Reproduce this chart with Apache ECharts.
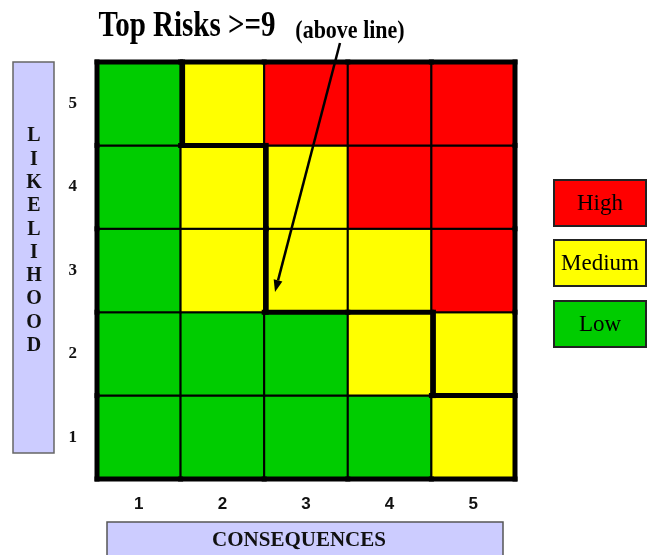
<!DOCTYPE html>
<html><head><meta charset="utf-8">
<script src="https://cdn.jsdelivr.net/npm/echarts@6/dist/echarts.min.js"></script>
<style>html,body{margin:0;padding:0;background:#fff}#main{width:649px;height:555px}</style>
</head><body><div id="main"></div>
<script>
// ---- data ----
const consequenceLabels = ['1', '2', '3', '4', '5'];
const likelihoodLabels = ['1', '2', '3', '4', '5'];
// risk level per cell, consequence 1..5, one array per likelihood row
const likelihood1 = ['Low', 'Low', 'Low', 'Low', 'Medium'];
const likelihood2 = ['Low', 'Low', 'Low', 'Medium', 'Medium'];
const likelihood3 = ['Low', 'Medium', 'Medium', 'Medium', 'High'];
const likelihood4 = ['Low', 'Medium', 'Medium', 'High', 'High'];
const likelihood5 = ['Low', 'Medium', 'High', 'High', 'High'];
const legendLevels = ['High', 'Medium', 'Low'];
const topRiskThreshold = 9;

// ---- styling ----
const levelNames = ['Low', 'Medium', 'High'];
const levelColors = { High: '#ff0000', Medium: '#ffff00', Low: '#00cc00' };
const serif = "'Liberation Serif', 'Times New Roman', serif";
const sans = "'Liberation Sans', Arial, sans-serif";

const rows = [likelihood1, likelihood2, likelihood3, likelihood4, likelihood5];
const cellData = [];
rows.forEach((row, l) => row.forEach((lv, c) => cellData.push([c, l, levelNames.indexOf(lv)])));

function score(c, l) { return Number(consequenceLabels[c]) * Number(likelihoodLabels[l]); }
function isTop(c, l) { return score(c, l) >= topRiskThreshold; }

function cellBox(api) {
  const c = api.value(0), l = api.value(1);
  const p = api.coord([c, l]);
  const s = api.size([1, 1]);
  return { c, l, x0: p[0] - s[0] / 2, x1: p[0] + s[0] / 2, y0: p[1] - s[1] / 2, y1: p[1] + s[1] / 2 };
}

function renderCell(params, api) {
  const b = cellBox(api);
  return {
    type: 'rect',
    shape: { x: b.x0, y: b.y0, width: b.x1 - b.x0, height: b.y1 - b.y0 },
    style: { fill: levelColors[levelNames[api.value(2)]], stroke: '#000', lineWidth: 2 }
  };
}

function seg(x1, y1, x2, y2, w) {
  return { type: 'line', shape: { x1, y1, x2, y2 }, style: { stroke: '#000', lineWidth: w, lineCap: 'square' } };
}

function renderBorders(params, api) {
  const b = cellBox(api);
  const n = consequenceLabels.length, m = likelihoodLabels.length;
  const ch = [];
  const W = 5;
  if (b.c === 0) ch.push(seg(b.x0, b.y0, b.x0, b.y1, W));
  if (b.c === n - 1) ch.push(seg(b.x1, b.y0, b.x1, b.y1, W));
  if (b.l === 0) ch.push(seg(b.x0, b.y1, b.x1, b.y1, W));
  if (b.l === m - 1) ch.push(seg(b.x0, b.y0, b.x1, b.y0, W));
  if (isTop(b.c, b.l)) {
    if (b.c > 0 && !isTop(b.c - 1, b.l)) ch.push(seg(b.x0 + 2, b.y0, b.x0 + 2, b.y1, W));
    if (b.l > 0 && !isTop(b.c, b.l - 1)) ch.push(seg(b.x0, b.y1, b.x1, b.y1, W));
  }
  return { type: 'group', children: ch };
}

// arrow annotation
const arrowStart = [340, 43], arrowEnd = [275, 292];
const dx = arrowEnd[0] - arrowStart[0], dy = arrowEnd[1] - arrowStart[1];
const len = Math.hypot(dx, dy), ux = dx / len, uy = dy / len;
const headL = 12, headW = 4.5;
const bx = arrowEnd[0] - ux * headL, by = arrowEnd[1] - uy * headL;

const legendTop = [180, 240, 301];
const legendGraphics = [];
legendLevels.forEach((lv, i) => {
  legendGraphics.push({
    type: 'rect', shape: { x: 554, y: legendTop[i], width: 92, height: 46 },
    style: { fill: levelColors[lv], stroke: '#222', lineWidth: 2 }, z: 10
  });
  legendGraphics.push({
    type: 'text', x: 600, y: legendTop[i] + 24, z: 11,
    style: { text: lv, font: '23px ' + serif, fill: '#000', align: 'center', verticalAlign: 'middle', textAlign: 'center', textVerticalAlign: 'middle' }
  });
});

const chart = echarts.init(document.getElementById('main'));
chart.setOption({
  backgroundColor: '#fff',
  animation: false,
  grid: { left: 97, right: 134, top: 62, bottom: 76 },
  xAxis: {
    type: 'category', data: consequenceLabels,
    axisLine: { show: false }, axisTick: { show: false }, splitLine: { show: false },
    axisLabel: { margin: 17, fontSize: 17, fontWeight: 'bold', fontFamily: sans, color: '#111' }
  },
  yAxis: {
    type: 'category', data: likelihoodLabels,
    axisLine: { show: false }, axisTick: { show: false }, splitLine: { show: false },
    axisLabel: { margin: 20, fontSize: 17, fontWeight: 'bold', fontFamily: serif, color: '#111' }
  },
  series: [
    { type: 'custom', renderItem: renderCell, data: cellData, z: 2, silent: true },
    { type: 'custom', renderItem: renderBorders, data: cellData, z: 3, silent: true }
  ],
  graphic: [
    {
      type: 'text', x: 187, y: 27, scaleY: 1.2, z: 20,
      style: { text: 'Top Risks >=9', font: 'bold 29px ' + serif, fill: '#000', align: 'center', verticalAlign: 'middle', textAlign: 'center', textVerticalAlign: 'middle' }
    },
    {
      type: 'text', x: 350, y: 32, scaleY: 1.1, z: 20,
      style: { text: '(above line)', font: 'bold 22px ' + serif, fill: '#000', align: 'center', verticalAlign: 'middle', textAlign: 'center', textVerticalAlign: 'middle' }
    },
    {
      type: 'line', z: 20,
      shape: { x1: arrowStart[0], y1: arrowStart[1], x2: bx, y2: by },
      style: { stroke: '#000', lineWidth: 2.5 }
    },
    {
      type: 'polygon', z: 20,
      shape: { points: [arrowEnd, [bx - uy * headW, by + ux * headW], [bx + uy * headW, by - ux * headW]] },
      style: { fill: '#000' }
    },
    {
      type: 'rect', shape: { x: 13, y: 62, width: 41, height: 391 }, z: 5,
      style: { fill: '#ccccff', stroke: '#666', lineWidth: 1.5 }
    },
    {
      type: 'text', x: 34, y: 241, z: 6,
      style: { text: 'LIKELIHOOD'.split('').join('\n'), font: 'bold 20px ' + serif, lineHeight: 23.3, fill: '#111', align: 'center', verticalAlign: 'middle', textAlign: 'center', textVerticalAlign: 'middle' }
    },
    {
      type: 'rect', shape: { x: 107, y: 522, width: 396, height: 45 }, z: 5,
      style: { fill: '#ccccff', stroke: '#555', lineWidth: 1.5 }
    },
    {
      type: 'text', x: 299, y: 541, z: 6,
      style: { text: 'CONSEQUENCES', font: 'bold 21px ' + serif, fill: '#111', align: 'center', verticalAlign: 'middle', textAlign: 'center', textVerticalAlign: 'middle' }
    }
  ].concat(legendGraphics)
});
</script>
</body></html>
